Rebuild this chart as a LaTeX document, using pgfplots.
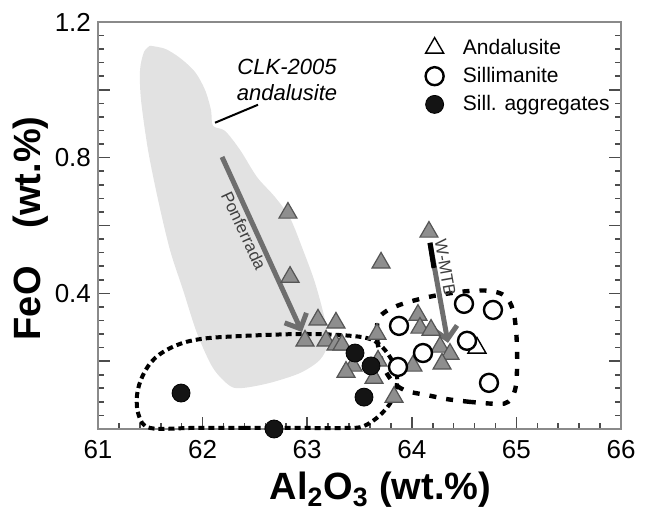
\documentclass[border=0pt]{standalone}
\usepackage{fontspec}
\setmainfont{Liberation Sans}
\usepackage{pgfplots}
\pgfplotsset{compat=1.18}
\usetikzlibrary{arrows.meta}

\definecolor{regiongray}{HTML}{E2E2E2}
\definecolor{trifill}{HTML}{8E8E8E}
\definecolor{triedge}{HTML}{555555}
\definecolor{arrowgray}{HTML}{6E6E6E}
\definecolor{framegray}{HTML}{8A8A8A}

\begin{document}
\begin{tikzpicture}
\begin{axis}[
    scale only axis,
    width=261.5pt, height=203.5pt,
    xmin=61, xmax=66, ymin=0, ymax=1.2,
    xtick={61,62,63,64,65,66}, minor x tick num=4,
    ytick={0,0.2,0.4,0.6,0.8,1.0,1.2},
    yticklabels={,,0.4,,0.8,,1.2},
    minor y tick num=4,
    xtick pos=left, ytick pos=both,
    tick align=inside,
    major tick length=6pt, minor tick length=3pt,
    axis line style={framegray, line width=0.8pt},
    tick style={black!70, line width=0.8pt},
    clip=false,
    /pgf/number format/assume math mode=true,
    xticklabel style={font=\fontsize{13}{13}\selectfont, yshift=-2pt},
    yticklabel style={font=\fontsize{13}{13}\selectfont},
    xlabel={\bfseries Al\textsubscript{2}O\textsubscript{3} (wt.\%)},
    ylabel={\bfseries FeO\quad(wt.\%)},
    label style={font=\fontsize{19}{19}\selectfont},
    xlabel style={at={(axis description cs:0.54,-0.15)}, anchor=center},
    ylabel style={at={(axis description cs:-0.128,0.493)}, anchor=center},
    legend style={at={(axis cs:63.99,1.175)}, anchor=north west, draw=none, fill=none,
        font=\fontsize{10.5}{12}\selectfont, row sep=1pt},
    legend cell align=left,
    legend image code/.code={
        \path (0cm,0cm) (0.72cm,0cm);
        \draw[mark repeat=2,mark phase=2,#1] plot coordinates {(0cm,0cm) (0.3cm,0cm) (0.6cm,0cm)};
    },
]
% CLK-2005 andalusite field
\addplot[fill=regiongray, draw=none, smooth, tension=0.5, forget plot] coordinates {
(61.497,1.130) (61.641,1.121) (61.784,1.094) (61.927,1.053) (62.023,1.000) (62.080,0.941)
(62.099,0.894) (62.214,0.879) (62.358,0.823) (62.520,0.743) (62.692,0.684) (62.836,0.622)
(62.960,0.528) (63.075,0.431) (63.170,0.322) (63.199,0.254) (63.122,0.204) (62.931,0.165)
(62.644,0.136) (62.386,0.121) (62.262,0.127) (62.099,0.180) (61.946,0.283) (61.813,0.410)
(61.688,0.528) (61.574,0.676) (61.478,0.823) (61.411,0.971) (61.402,1.059) (61.440,1.112)
(61.497,1.130)};

% dashed fields
\addplot[black, line width=2pt, dash pattern=on 3pt off 2pt, smooth, tension=0.6, forget plot] coordinates {
(62.4,0.003) (61.9,0.003) (61.5,0.003) (61.39,0.04) (61.373,0.10) (61.43,0.159) (61.545,0.209)
(61.736,0.245) (61.975,0.265) (62.358,0.274) (62.931,0.280) (63.314,0.277) (63.572,0.268)
(63.696,0.248) (63.792,0.212) (63.849,0.174) (63.859,0.136) (63.820,0.091) (63.744,0.056)
(63.629,0.024) (63.505,0.005) (63.35,0.003) (62.9,0.003) (62.4,0.003)};
\addplot[black, line width=2.2pt, dash pattern=on 3.5pt off 5pt, smooth, tension=0.6, forget plot] coordinates {
(64.556,0.080) (64.337,0.088) (64.145,0.100) (63.954,0.112) (63.839,0.133) (63.744,0.174)
(63.686,0.233) (63.667,0.277) (63.677,0.322) (63.744,0.345) (63.859,0.363) (64.011,0.378)
(64.203,0.392) (64.384,0.401) (64.556,0.407) (64.748,0.407) (64.891,0.392) (64.967,0.351)
(64.996,0.292) (65.006,0.233) (65.006,0.174) (64.987,0.115) (64.920,0.080) (64.815,0.074)
(64.556,0.080)};

% trend arrows
\addplot[arrowgray, line width=2.5pt, -{Straight Barb[length=6pt, width=12pt]}, forget plot]
  coordinates {(62.186,0.802) (62.950,0.286)};
\addplot[arrowgray, line width=2.5pt, -{Straight Barb[length=6pt, width=12pt]}, forget plot]
  coordinates {(64.174,0.549) (64.346,0.254)};
\addplot[black, line width=2.5pt, forget plot]
  coordinates {(64.174,0.549) (64.212,0.475)};

% leader line
\addplot[black, line width=1pt, forget plot] coordinates {(62.530,0.956) (62.119,0.903)};

% andalusite (grey triangles)
\addplot[only marks, mark=triangle*, mark size=5.2pt,
  mark options={fill=trifill, draw=triedge, line width=0.6pt}, forget plot] coordinates {
(62.816,0.637) (62.836,0.448) (63.706,0.490) (64.164,0.581) (63.103,0.322) (63.275,0.313)
(63.667,0.280) (64.059,0.336) (62.979,0.260) (63.180,0.260) (63.275,0.248) (63.333,0.248)
(63.438,0.186) (63.371,0.168) (63.639,0.150) (63.677,0.201) (63.830,0.094) (64.078,0.298)
(64.184,0.292) (64.011,0.186) (64.270,0.242) (64.365,0.221) (64.289,0.192)};

% open andalusite
\addplot[only marks, mark=triangle*, mark size=5.2pt,
  mark options={fill=white, draw=black, line width=0.7pt}] coordinates {(64.623,0.239)};
\addlegendentry{Andalusite}

% sillimanite
\addplot[only marks, mark=*, mark size=4.5pt,
  mark options={fill=white, draw=black, line width=1.2pt}] coordinates {
(63.878,0.304) (64.499,0.369) (64.776,0.351) (64.528,0.260) (64.738,0.136) (64.107,0.224)
(63.868,0.183)};
\addlegendentry{Sillimanite}

% sillimanite aggregates
\addplot[only marks, mark=*, mark size=4.5pt,
  mark options={fill=black!92, draw=black}] coordinates {
(61.794,0.106) (62.683,0.000) (63.457,0.224) (63.610,0.186) (63.543,0.094)};
\addlegendentry{Sill. aggregates}

% annotations
\node[font=\fontsize{11}{13}\selectfont\itshape, align=center] at (axis cs:62.807,1.029)
  {CLK-2005\\andalusite};
\node[font=\fontsize{8.5}{10}\selectfont, text=black!75, rotate=-65] at (axis cs:62.395,0.585)
  {Ponferrada};
\node[font=\fontsize{8.5}{10}\selectfont, text=black!75, rotate=-80] at (axis cs:64.32,0.475)
  {W-MTB};
\end{axis}
\pgfresetboundingbox
\path[use as bounding box] ([shift={(-49pt,-41.5pt)}]current axis.south west)
  rectangle ([shift={(13pt,11pt)}]current axis.north east);
\end{tikzpicture}
\end{document}
